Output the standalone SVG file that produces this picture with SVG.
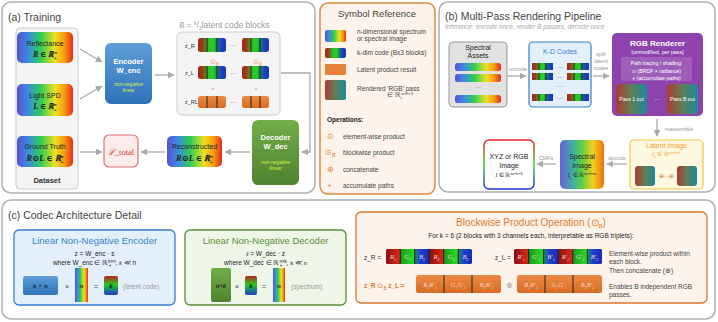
<svg xmlns="http://www.w3.org/2000/svg" width="718" height="322" viewBox="0 0 718 322">
<defs>
<linearGradient id="rainbow" x1="0" y1="0" x2="1" y2="0">
<stop offset="0" stop-color="#5b4fd6"/><stop offset="0.2" stop-color="#3b8de0"/><stop offset="0.42" stop-color="#2ecc55"/><stop offset="0.68" stop-color="#f0e020"/><stop offset="0.85" stop-color="#f59a10"/><stop offset="1" stop-color="#e82a1a"/>
</linearGradient>
<linearGradient id="rainbowV" x1="0" y1="0" x2="1" y2="0">
<stop offset="0" stop-color="#6a5fe0"/><stop offset="0.3" stop-color="#3fb0a0"/><stop offset="0.5" stop-color="#5dd040"/><stop offset="0.75" stop-color="#f0d020"/><stop offset="1" stop-color="#f07010"/>
</linearGradient>
<linearGradient id="code" x1="0" y1="0" x2="1" y2="0">
<stop offset="0" stop-color="#a8241e"/><stop offset="0.15" stop-color="#9a3a18"/><stop offset="0.38" stop-color="#2bbf2b"/><stop offset="0.55" stop-color="#22d422"/><stop offset="0.66" stop-color="#1a8a50"/><stop offset="0.85" stop-color="#1a3ad0"/><stop offset="1" stop-color="#1e3aa8"/>
</linearGradient>
<linearGradient id="codeV" x1="0" y1="0" x2="0" y2="1">
<stop offset="0" stop-color="#c02020"/><stop offset="0.45" stop-color="#22cc22"/><stop offset="1" stop-color="#1a3ad0"/>
</linearGradient>
<linearGradient id="orangeG" x1="0" y1="0" x2="0" y2="1">
<stop offset="0" stop-color="#ec8a45"/><stop offset="1" stop-color="#d86c22"/>
</linearGradient>
<linearGradient id="pass" x1="0" y1="0" x2="1" y2="0">
<stop offset="0" stop-color="#b0392f"/><stop offset="0.5" stop-color="#5f7f55"/><stop offset="1" stop-color="#1a8aa0"/>
</linearGradient>
<linearGradient id="encG" x1="0" y1="0" x2="0" y2="1">
<stop offset="0" stop-color="#5e9ed8"/><stop offset="1" stop-color="#2f72b8"/>
</linearGradient>
<linearGradient id="decG" x1="0" y1="0" x2="0" y2="1">
<stop offset="0" stop-color="#72ad4a"/><stop offset="1" stop-color="#4f8230"/>
</linearGradient>
<linearGradient id="xyzG" x1="0" y1="0" x2="0" y2="1">
<stop offset="0" stop-color="#e82020"/><stop offset="0.5" stop-color="#30d030"/><stop offset="1" stop-color="#2030e0"/>
</linearGradient>
<linearGradient id="cR" x1="0" y1="0" x2="1" y2="0"><stop offset="0" stop-color="#8a1010"/><stop offset="1" stop-color="#e02a1a"/></linearGradient>
<linearGradient id="cG" x1="0" y1="0" x2="1" y2="0"><stop offset="0" stop-color="#1a9a1a"/><stop offset="1" stop-color="#28dd28"/></linearGradient>
<linearGradient id="cB" x1="0" y1="0" x2="1" y2="0"><stop offset="0" stop-color="#1a8a70"/><stop offset="0.4" stop-color="#1a40d0"/><stop offset="1" stop-color="#1a2ab0"/></linearGradient>
<marker id="arr" viewBox="0 0 10 10" refX="9" refY="5" markerWidth="7" markerHeight="7" orient="auto" markerUnits="userSpaceOnUse">
<path d="M0,0 L10,5 L0,10 z" fill="#aaaaaa"/>
</marker>
</defs>
<style>
text{font-family:"Liberation Sans",Arial,sans-serif;}
.panel{fill:#ffffff;stroke:#b0b0b0;stroke-width:1.5;}
.ptitle{font-size:10.5px;fill:#444;}
.grey{fill:#f4f4f4;stroke:#cccccc;stroke-width:1;}
.bt{font-size:7px;fill:#222;text-anchor:middle;}
.math{font-family:"Liberation Serif","DejaVu Serif",serif;font-style:italic;font-weight:bold;fill:#222;text-anchor:middle;}
.wt{fill:#fff;font-weight:bold;text-anchor:middle;}
.conn{stroke:#aaaaaa;stroke-width:1.3;fill:none;marker-end:url(#arr);}
.cl{font-size:5.5px;fill:#999;text-anchor:middle;}
.small{font-size:6.5px;fill:#444;}
.div{stroke:#222;stroke-width:1;}
.eq{font-size:6.5px;fill:#222;text-anchor:middle;}
.celltxt{font-family:"Liberation Serif",serif;font-style:italic;font-size:6.5px;fill:#fbd5d0;text-anchor:middle;}
</style>

<g id="panel-a">
<rect class="panel" x="2" y="2" width="313" height="191" rx="9"/>
<text class="ptitle" x="8" y="21">(a) Training</text>
</g>
<g id="panel-b">
<rect class="panel" x="439" y="2" width="276" height="190" rx="9"/>
<text class="ptitle" x="445" y="20">(b) Multi-Pass Rendering Pipeline</text>
<text x="445" y="29" style="font-size:6.5px;fill:#aaa;font-style:italic">Inference: encode once, render B passes, decode once</text>
</g>
<g id="panel-c">
<rect class="panel" x="2" y="200" width="713" height="119" rx="9"/>
<text class="ptitle" x="8" y="219">(c) Codec Architecture Detail</text>
</g>

<g id="dataset">
<rect class="grey" x="16" y="28" width="62" height="161" rx="4"/>
<text x="47" y="183" style="font-size:7.5px;fill:#333;text-anchor:middle;font-weight:bold">Dataset</text>
</g>
<g id="reflectance">
<rect x="17" y="32" width="56" height="31" rx="5" fill="url(#rainbow)"/>
<text class="bt" x="45" y="46">Reflectance</text>
<text class="math" x="45" y="57" font-size="8">R ∈ ℝ<tspan font-size="5" dy="-3">n</tspan><tspan font-size="5" dx="-3" dy="5">+</tspan></text>
</g>
<g id="light">
<rect x="17" y="84" width="56" height="32" rx="5" fill="url(#rainbow)"/>
<text class="bt" x="45" y="98">Light SPD</text>
<text class="math" x="45" y="109" font-size="8">L ∈ ℝ<tspan font-size="5" dy="-3">n</tspan><tspan font-size="5" dx="-3" dy="5">+</tspan></text>
</g>
<g id="groundtruth">
<rect x="17" y="136" width="56" height="31" rx="5" fill="url(#rainbow)"/>
<text class="bt" x="45" y="149">Ground Truth</text>
<text class="math" x="45" y="161" font-size="8.5">R⊙L ∈ ℝ<tspan font-size="5" dy="-3">n</tspan><tspan font-size="5" dx="-3" dy="5">+</tspan></text>
</g>
<g id="encoder">
<rect x="105" y="43" width="47" height="61" rx="6" fill="url(#encG)"/>
<text class="wt" x="128.5" y="64" font-size="7.5">Encoder</text>
<text class="wt" x="128.5" y="73" font-size="7.5">W_enc</text>
<text x="128.5" y="86" style="font-size:5px;fill:#d8f040;font-style:italic;text-anchor:middle">non-negative</text>
<text x="128.5" y="92" style="font-size:5px;fill:#d8f040;font-style:italic;text-anchor:middle">linear</text>
</g>
<g id="latent-blocks">
<text x="179" y="28" style="font-size:8.5px;fill:#999"><tspan font-family="Liberation Serif,serif" font-style="italic">B</tspan> = <tspan font-size="5" dy="-3">k</tspan><tspan dy="3">/</tspan><tspan font-size="5" dy="2">3</tspan><tspan dy="-2">latent code blocks</tspan></text>
<rect class="grey" x="177" y="32" width="103" height="83" rx="5"/>
<text x="185" y="48" style="font-size:5.5px;fill:#333">z_R</text>
<rect x="198" y="38" width="28" height="14" rx="2.5" fill="url(#code)"/>
<line class="div" x1="207" y1="38" x2="207" y2="52"/><line class="div" x1="217" y1="38" x2="217" y2="52"/>
<text x="233" y="47" style="font-size:6px;fill:#333;text-anchor:middle">···</text>
<rect x="242" y="38" width="27" height="14" rx="2.5" fill="url(#code)"/>
<line class="div" x1="251" y1="38" x2="251" y2="52"/><line class="div" x1="260" y1="38" x2="260" y2="52"/>
<text x="210" y="64" style="font-size:7px;fill:#f0a070">⊙<tspan font-size="4.5" dy="2">B</tspan></text>
<text x="253" y="64" style="font-size:7px;fill:#f0a070">⊙<tspan font-size="4.5" dy="2">B</tspan></text>
<text x="185" y="75" style="font-size:5.5px;fill:#333">z_L</text>
<rect x="198" y="66" width="28" height="13" rx="2.5" fill="url(#code)"/>
<line class="div" x1="207" y1="66" x2="207" y2="79"/><line class="div" x1="217" y1="66" x2="217" y2="79"/>
<text x="233" y="75" style="font-size:6px;fill:#333;text-anchor:middle">···</text>
<rect x="242" y="66" width="27" height="13" rx="2.5" fill="url(#code)"/>
<line class="div" x1="251" y1="66" x2="251" y2="79"/><line class="div" x1="260" y1="66" x2="260" y2="79"/>
<text x="213" y="91" style="font-size:6px;fill:#f0a070;text-anchor:middle">=</text>
<text x="256" y="91" style="font-size:6px;fill:#f0a070;text-anchor:middle">=</text>
<text x="185" y="104" style="font-size:5.5px;fill:#333">z_RL</text>
<rect x="198" y="96" width="28" height="12" rx="2.5" fill="url(#orangeG)"/>
<line class="div" x1="207" y1="96" x2="207" y2="108"/><line class="div" x1="217" y1="96" x2="217" y2="108"/>
<text x="233" y="104" style="font-size:6px;fill:#333;text-anchor:middle">···</text>
<rect x="242" y="96" width="27" height="12" rx="2.5" fill="url(#orangeG)"/>
<line class="div" x1="251" y1="96" x2="251" y2="108"/><line class="div" x1="260" y1="96" x2="260" y2="108"/>
</g>
<g id="decoder">
<rect x="252" y="120" width="47" height="65" rx="6" fill="url(#decG)"/>
<text class="wt" x="275.5" y="140" font-size="7.5">Decoder</text>
<text class="wt" x="275.5" y="149" font-size="7.5">W_dec</text>
<text x="275.5" y="164" style="font-size:5px;fill:#d8f040;font-style:italic;text-anchor:middle">non-negative</text>
<text x="275.5" y="170" style="font-size:5px;fill:#d8f040;font-style:italic;text-anchor:middle">linear</text>
</g>
<g id="reconstructed">
<rect x="167" y="136" width="55" height="31" rx="5" fill="url(#rainbow)"/>
<text class="bt" x="194.5" y="149">Reconstructed</text>
<text class="math" x="194.5" y="161" font-size="8.5">R⊙L ∈ ℝ<tspan font-size="5" dy="-3">n</tspan><tspan font-size="5" dx="-3" dy="5">+</tspan></text>
</g>
<g id="loss">
<rect x="104" y="135" width="34" height="32" rx="5" fill="#fdecec" stroke="#e07070" stroke-width="1.2"/>
<text x="121" y="155" style="font-family:'Liberation Serif',serif;font-size:8.5px;fill:#d03030;text-anchor:middle"><tspan font-style="italic">ℒ</tspan>_total</text>
</g>

<g id="symbol-reference">
<rect x="320" y="3" width="115" height="191" rx="8" fill="#fdf3ea" stroke="#e08a3c" stroke-width="1.5"/>
<text x="377" y="17" style="font-size:9.5px;fill:#444;text-anchor:middle">Symbol Reference</text>
<rect x="325" y="30" width="21" height="12" rx="2" fill="url(#rainbow)"/>
<text class="small" x="357" y="34" font-size="6">n-dimensional spectrum</text>
<text class="small" x="357" y="41" font-size="6">or spectral image</text>
<rect x="325" y="48" width="21" height="10" rx="2" fill="url(#code)"/>
<text class="small" x="357" y="55" font-size="6">k-dim code (Bx3 blocks)</text>
<rect x="325" y="64" width="21" height="11" rx="1" fill="#e8803a"/>
<text class="small" x="357" y="72" font-size="6">Latent product result</text>
<rect x="325" y="80" width="21" height="20" rx="2" fill="url(#pass)"/>
<text class="small" x="357" y="91" font-size="6">Rendered 'RGB' pass</text>
<text class="small" x="400" y="97" font-size="5.5" text-anchor="middle">∈ ℝ<tspan font-size="4" dy="-2.5">w×h×3</tspan><tspan font-size="4" dx="-13" dy="4">+</tspan></text>
<text x="327" y="122" style="font-size:6.5px;fill:#222;font-weight:bold">Operations:</text>
<text x="327" y="139" style="font-size:8px;fill:#e07b2e">⊙</text>
<text class="small" x="343" y="139" font-size="6.2">element-wise product</text>
<text x="325" y="155" style="font-size:8px;fill:#e07b2e">⊙<tspan font-size="5" dy="2">B</tspan></text>
<text class="small" x="343" y="155" font-size="6.2">blockwise product</text>
<text x="327" y="172" style="font-size:8px;fill:#e07b2e">⊕</text>
<text class="small" x="343" y="172" font-size="6.2">concatenate</text>
<text x="327" y="188" style="font-size:8px;fill:#e07b2e">+</text>
<text class="small" x="343" y="188" font-size="6.2">accumulate paths</text>
</g>

<g id="spectral-assets">
<rect x="449" y="42" width="58" height="65" rx="4" fill="#e2e2e2" stroke="#999" stroke-width="1"/>
<text class="bt" x="478" y="50" font-size="6.5">Spectral</text>
<text class="bt" x="478" y="58" font-size="6.5">Assets</text>
<rect x="455" y="63" width="46" height="8" rx="2.5" fill="url(#rainbow)"/>
<rect x="455" y="74" width="46" height="8" rx="2.5" fill="url(#rainbow)"/>
<text x="478" y="89" style="font-size:6px;fill:#333;text-anchor:middle">···</text>
<rect x="455" y="95" width="46" height="8" rx="2.5" fill="url(#rainbow)"/>
</g>
<g id="kd-codes">
<rect x="529" y="42" width="62" height="65" rx="4" fill="#e3f0fb" stroke="#3a7ccc" stroke-width="1.2"/>
<text x="560" y="54" style="font-size:7px;fill:#3a7ccc;text-anchor:middle">K-D Codes</text>
<rect x="532" y="63" width="21" height="7" fill="url(#code)"/><line class="div" x1="539" y1="63" x2="539" y2="70"/><line class="div" x1="546" y1="63" x2="546" y2="70"/>
<text x="560" y="69" style="font-size:6px;fill:#333;text-anchor:middle">···</text>
<rect x="567" y="63" width="22" height="7" fill="url(#code)"/><line class="div" x1="574" y1="63" x2="574" y2="70"/><line class="div" x1="582" y1="63" x2="582" y2="70"/>
<rect x="532" y="73" width="21" height="7" fill="url(#code)"/><line class="div" x1="539" y1="73" x2="539" y2="80"/><line class="div" x1="546" y1="73" x2="546" y2="80"/>
<text x="560" y="79" style="font-size:6px;fill:#333;text-anchor:middle">···</text>
<rect x="567" y="73" width="22" height="7" fill="url(#code)"/><line class="div" x1="574" y1="73" x2="574" y2="80"/><line class="div" x1="582" y1="73" x2="582" y2="80"/>
<text x="560" y="88" style="font-size:6px;fill:#333;text-anchor:middle">···</text>
<rect x="532" y="94" width="21" height="7" fill="url(#code)"/><line class="div" x1="539" y1="94" x2="539" y2="101"/><line class="div" x1="546" y1="94" x2="546" y2="101"/>
<text x="560" y="100" style="font-size:6px;fill:#333;text-anchor:middle">···</text>
<rect x="567" y="94" width="22" height="7" fill="url(#code)"/><line class="div" x1="574" y1="94" x2="574" y2="101"/><line class="div" x1="582" y1="94" x2="582" y2="101"/>
</g>
<g id="rgb-renderer">
<rect x="612" y="33" width="91" height="83" rx="5" fill="#8d42ad"/>
<text class="wt" x="657.5" y="46" font-size="8">RGB Renderer</text>
<text x="657.5" y="54" style="font-size:5.3px;fill:#fff;text-anchor:middle">(unmodified, per pass)</text>
<rect x="621" y="57" width="71" height="24" rx="2" fill="#ffffff" fill-opacity="0.15"/>
<text x="656.5" y="65" style="font-size:5.2px;fill:#fff;text-anchor:middle">Path tracing / shading:</text>
<text x="656.5" y="72.5" style="font-size:5.2px;fill:#fff;text-anchor:middle">⊙  (BRDF × radiance)</text>
<text x="656.5" y="79.5" style="font-size:5.2px;fill:#fff;text-anchor:middle">+  (accumulate paths)</text>
<rect x="616" y="84" width="31" height="30" rx="4" fill="url(#pass)"/>
<text x="631.5" y="101" style="font-size:5.2px;fill:#fff;text-anchor:middle">Pass 1 out</text>
<text x="657" y="101" style="font-size:6px;fill:#fff;text-anchor:middle">···</text>
<rect x="667" y="84" width="31" height="30" rx="4" fill="url(#pass)"/>
<text x="682.5" y="101" style="font-size:5.2px;fill:#fff;text-anchor:middle">Pass B out</text>
</g>
<g id="latent-image">
<rect x="630" y="140" width="73" height="49" rx="4" fill="#fff8e1" stroke="#f5c542" stroke-width="1.2"/>
<text x="666.5" y="148" style="font-size:7px;fill:#f0a030;text-anchor:middle">Latent Image</text>
<text x="666.5" y="156" style="font-size:5.5px;fill:#f0a030;text-anchor:middle"><tspan font-family="Liberation Serif,serif" font-style="italic">I<tspan font-size="4" dy="1.5">z</tspan></tspan><tspan dy="-1.5"> ∈ ℝ</tspan><tspan font-size="4" dy="-2.5">w×h×k</tspan></text>
<rect x="635" y="166" width="20" height="20" rx="3" fill="url(#pass)"/>
<text x="666.5" y="178" style="font-size:6px;fill:#e07b2e;text-anchor:middle">⊕···⊕</text>
<rect x="677" y="166" width="20" height="20" rx="3" fill="url(#pass)"/>
</g>
<g id="spectral-image">
<rect x="560" y="140" width="44" height="49" rx="5" fill="url(#rainbowV)"/>
<text class="bt" x="582" y="159" font-size="7">Spectral</text>
<text class="bt" x="582" y="168" font-size="7">Image</text>
<text x="582" y="177" style="font-size:5.5px;fill:#222;text-anchor:middle"><tspan font-family="Liberation Serif,serif" font-style="italic">I<tspan font-size="4" dy="1.5">λ</tspan></tspan><tspan dy="-1.5"> ∈ ℝ</tspan><tspan font-size="4" dy="-2.5">w×h×n</tspan></text>
</g>
<g id="xyz-image">
<rect x="484" y="140" width="50" height="49" rx="5" fill="#ffffff" stroke="url(#xyzG)" stroke-width="1.5"/>
<text class="bt" x="509" y="159" font-size="7">XYZ or RGB</text>
<text class="bt" x="509" y="168" font-size="7">Image</text>
<text x="509" y="177" style="font-size:5.5px;fill:#222;text-anchor:middle"><tspan font-family="Liberation Serif,serif" font-style="italic">I</tspan> ∈ ℝ<tspan font-size="4" dy="-2.5">w×h×3</tspan></text>
</g>

<g id="connectors">
<path class="conn" d="M80,49 L102,62"/>
<path class="conn" d="M80,99 L102,86"/>
<path class="conn" d="M155,75 L174,75"/>
<path class="conn" d="M281,73 H310 V152 H302"/>
<path class="conn" d="M250,152 H225"/>
<path class="conn" d="M165,152 H141"/>
<path class="conn" d="M80,152 H102"/>
<path class="conn" d="M508,76 H526"/>
<text class="cl" x="518" y="71">encode</text>
<path class="conn" d="M593,76 H609"/>
<text class="cl" x="601" y="56">split</text>
<text class="cl" x="601" y="63">latent</text>
<text class="cl" x="601" y="70">codes</text>
<path class="conn" d="M657,119 V136"/>
<text class="cl" x="679" y="131">reassemble</text>
<path class="conn" d="M627,164 H607"/>
<text class="cl" x="617" y="160">decode</text>
<path class="conn" d="M556,164 H537"/>
<text class="cl" x="546" y="160">CMFs</text>
</g>

<g id="lin-encoder">
<rect x="14" y="230" width="161" height="75" rx="5" fill="#e3f0fb" stroke="#3a7ccc" stroke-width="1.3"/>
<text x="94.5" y="244" style="font-size:9.5px;fill:#3a7ccc;text-anchor:middle">Linear Non-Negative Encoder</text>
<text class="eq" x="94.5" y="256">z = W_enc · s</text>
<text class="eq" x="94.5" y="265">where W_enc ∈ ℝ<tspan font-size="4.5" dy="-2.5">k×n</tspan><tspan font-size="4.5" dx="-7" dy="4">+</tspan><tspan dx="4" dy="-1.5">, </tspan><tspan font-family="Liberation Serif,serif" font-style="italic">k</tspan> ≪ n</text>
<rect x="23" y="276" width="35" height="19" rx="2" fill="url(#encG)"/>
<text x="40.5" y="288" style="font-family:'Liberation Serif',serif;font-weight:bold;font-size:7px;fill:#1a2a50;text-anchor:middle"><tspan font-style="italic">k</tspan> × <tspan font-style="italic">n</tspan></text>
<text x="67" y="289" style="font-size:7px;fill:#444;text-anchor:middle">×</text>
<rect x="75" y="268" width="13" height="34" fill="url(#rainbow)"/>
<text x="81.5" y="288" style="font-family:'Liberation Serif',serif;font-style:italic;font-weight:bold;font-size:7px;fill:#333;text-anchor:middle">n</text>
<text x="96" y="289" style="font-size:7px;fill:#444;text-anchor:middle">=</text>
<rect x="104" y="276" width="14" height="19" rx="2" fill="url(#codeV)"/>
<text x="111" y="288" style="font-family:'Liberation Serif',serif;font-style:italic;font-weight:bold;font-size:7px;fill:#222;text-anchor:middle">k</text>
<text x="123" y="289" style="font-size:6.5px;fill:#999">(latent code)</text>
</g>
<g id="lin-decoder">
<rect x="185" y="230" width="161" height="75" rx="5" fill="#eef6e8" stroke="#5b8c3a" stroke-width="1.3"/>
<text x="265.5" y="244" style="font-size:9.5px;fill:#5b8c3a;text-anchor:middle">Linear Non-Negative Decoder</text>
<text class="eq" x="265.5" y="256"><tspan font-family="Liberation Serif,serif" font-style="italic">ŝ</tspan> = W_dec · z</text>
<text class="eq" x="265.5" y="265">where W_dec ∈ ℝ<tspan font-size="4.5" dy="-2.5">n×k</tspan><tspan font-size="4.5" dx="-7" dy="4">+</tspan><tspan dx="4" dy="-1.5">, </tspan><tspan font-family="Liberation Serif,serif" font-style="italic">k</tspan> ≪ <tspan font-family="Liberation Serif,serif" font-style="italic">n</tspan></text>
<rect x="211" y="268" width="20" height="34" rx="2" fill="url(#decG)"/>
<text x="221" y="288" style="font-family:'Liberation Serif',serif;font-weight:bold;font-size:6px;fill:#1a2a10;text-anchor:middle"><tspan font-style="italic">n</tspan>×<tspan font-style="italic">k</tspan></text>
<text x="237" y="289" style="font-size:7px;fill:#444;text-anchor:middle">×</text>
<rect x="245" y="276" width="12" height="19" rx="2" fill="url(#codeV)"/>
<text x="251" y="288" style="font-family:'Liberation Serif',serif;font-style:italic;font-weight:bold;font-size:7px;fill:#222;text-anchor:middle">k</text>
<text x="264" y="289" style="font-size:7px;fill:#444;text-anchor:middle">=</text>
<rect x="273" y="268" width="12" height="34" fill="url(#rainbow)"/>
<text x="279" y="288" style="font-family:'Liberation Serif',serif;font-style:italic;font-weight:bold;font-size:7px;fill:#333;text-anchor:middle">n</text>
<text x="291" y="289" style="font-size:6.5px;fill:#999">(spectrum)</text>
</g>
<g id="blockwise">
<rect x="356" y="212" width="351" height="91" rx="5" fill="#fdf3ea" stroke="#d9782d" stroke-width="1.3"/>
<text x="531" y="226" style="font-size:10px;fill:#e07b2e;text-anchor:middle">Blockwise Product Operation (⊙<tspan font-size="6" dy="2">B</tspan><tspan dy="-2">)</tspan></text>
<text x="531" y="238" style="font-size:6.5px;fill:#222;text-anchor:middle">For k = 6 (2 blocks with 3 channels each, interpretable as RGB triplets):</text>
<text x="364" y="260" style="font-size:6.5px;fill:#333">z_R =</text>
<rect x="386" y="249" width="86" height="15" rx="2.5" fill="#222"/>
<rect x="386" y="249" width="14" height="15" rx="2" fill="url(#cR)"/>
<rect x="400.5" y="249" width="14" height="15" fill="url(#cG)"/>
<rect x="415" y="249" width="14" height="15" fill="url(#cB)"/>
<rect x="429.5" y="249" width="14" height="15" fill="url(#cR)"/>
<rect x="444" y="249" width="14" height="15" fill="url(#cG)"/>
<rect x="458.5" y="249" width="13.5" height="15" rx="2" fill="url(#cB)"/>
<g class="div"><line x1="400.2" y1="249" x2="400.2" y2="264"/><line x1="414.7" y1="249" x2="414.7" y2="264"/><line x1="429.2" y1="249" x2="429.2" y2="264"/><line x1="443.7" y1="249" x2="443.7" y2="264"/><line x1="458.2" y1="249" x2="458.2" y2="264"/></g>
<text class="celltxt" x="393" y="259">R<tspan font-size="4.5" dy="1.5">1</tspan></text>
<text class="celltxt" x="407.5" y="259">G<tspan font-size="4.5" dy="1.5">1</tspan></text>
<text class="celltxt" x="422" y="259">B<tspan font-size="4.5" dy="1.5">1</tspan></text>
<text class="celltxt" x="436.5" y="259">R<tspan font-size="4.5" dy="1.5">2</tspan></text>
<text class="celltxt" x="451" y="259">G<tspan font-size="4.5" dy="1.5">2</tspan></text>
<text class="celltxt" x="465.5" y="259">B<tspan font-size="4.5" dy="1.5">2</tspan></text>
<text x="495" y="260" style="font-size:6.5px;fill:#333">z_L =</text>
<rect x="514" y="249" width="88" height="15" rx="2.5" fill="#222"/>
<rect x="514" y="249" width="14.5" height="15" rx="2" fill="url(#cR)"/>
<rect x="529" y="249" width="14.5" height="15" fill="url(#cG)"/>
<rect x="544" y="249" width="14.5" height="15" fill="url(#cB)"/>
<rect x="558.5" y="249" width="14.5" height="15" fill="url(#cR)"/>
<rect x="573" y="249" width="14.5" height="15" fill="url(#cG)"/>
<rect x="587.5" y="249" width="14.5" height="15" rx="2" fill="url(#cB)"/>
<g class="div"><line x1="528.7" y1="249" x2="528.7" y2="264"/><line x1="543.7" y1="249" x2="543.7" y2="264"/><line x1="558.3" y1="249" x2="558.3" y2="264"/><line x1="572.8" y1="249" x2="572.8" y2="264"/><line x1="587.3" y1="249" x2="587.3" y2="264"/></g>
<text class="celltxt" x="521" y="259">R′<tspan font-size="4" dy="1.5">1</tspan></text>
<text class="celltxt" x="536" y="259">G′<tspan font-size="4" dy="1.5">1</tspan></text>
<text class="celltxt" x="551" y="259">B′<tspan font-size="4" dy="1.5">1</tspan></text>
<text class="celltxt" x="565.5" y="259">R′<tspan font-size="4" dy="1.5">2</tspan></text>
<text class="celltxt" x="580" y="259">G′<tspan font-size="4" dy="1.5">2</tspan></text>
<text class="celltxt" x="594.5" y="259">B′<tspan font-size="4" dy="1.5">2</tspan></text>
<text x="609" y="256" style="font-size:6.5px;fill:#444">Element-wise product within</text>
<text x="609" y="264" style="font-size:6.5px;fill:#444">each block.</text>
<text x="609" y="273" style="font-size:6.5px;fill:#444">Then concatenate (⊕)</text>
<text x="364" y="288" style="font-size:6.5px;fill:#e07b2e;font-weight:bold">z_R <tspan font-weight="normal">⊙</tspan><tspan font-size="4.5" dy="1.5" font-weight="normal">B</tspan><tspan dy="-1.5"> z_L =</tspan></text>
<rect x="416" y="275" width="85" height="18" rx="2.5" fill="url(#orangeG)"/>
<line class="div" x1="444" y1="275" x2="444" y2="293"/><line class="div" x1="472" y1="275" x2="472" y2="293"/>
<text class="celltxt" x="430" y="287" fill="#fde0c8">R<tspan font-size="4" dy="1.5">1</tspan><tspan dy="-1.5">R′</tspan><tspan font-size="4" dy="1.5">1</tspan></text>
<text class="celltxt" x="458" y="287">G<tspan font-size="4" dy="1.5">1</tspan><tspan dy="-1.5">G′</tspan><tspan font-size="4" dy="1.5">1</tspan></text>
<text class="celltxt" x="486.5" y="287">B<tspan font-size="4" dy="1.5">1</tspan><tspan dy="-1.5">B′</tspan><tspan font-size="4" dy="1.5">1</tspan></text>
<text x="509" y="288" style="font-size:8px;fill:#999;text-anchor:middle">⊕</text>
<rect x="517" y="275" width="85" height="18" rx="2.5" fill="url(#orangeG)"/>
<line class="div" x1="545" y1="275" x2="545" y2="293"/><line class="div" x1="573" y1="275" x2="573" y2="293"/>
<text class="celltxt" x="531" y="287">R<tspan font-size="4" dy="1.5">2</tspan><tspan dy="-1.5">R′</tspan><tspan font-size="4" dy="1.5">2</tspan></text>
<text class="celltxt" x="559" y="287">G<tspan font-size="4" dy="1.5">2</tspan><tspan dy="-1.5">G′</tspan><tspan font-size="4" dy="1.5">2</tspan></text>
<text class="celltxt" x="587.5" y="287">B<tspan font-size="4" dy="1.5">2</tspan><tspan dy="-1.5">B′</tspan><tspan font-size="4" dy="1.5">2</tspan></text>
<text x="609" y="289" style="font-size:6.5px;fill:#444">Enables B independent RGB</text>
<text x="609" y="297" style="font-size:6.5px;fill:#444">passes.</text>
</g>
</svg>
